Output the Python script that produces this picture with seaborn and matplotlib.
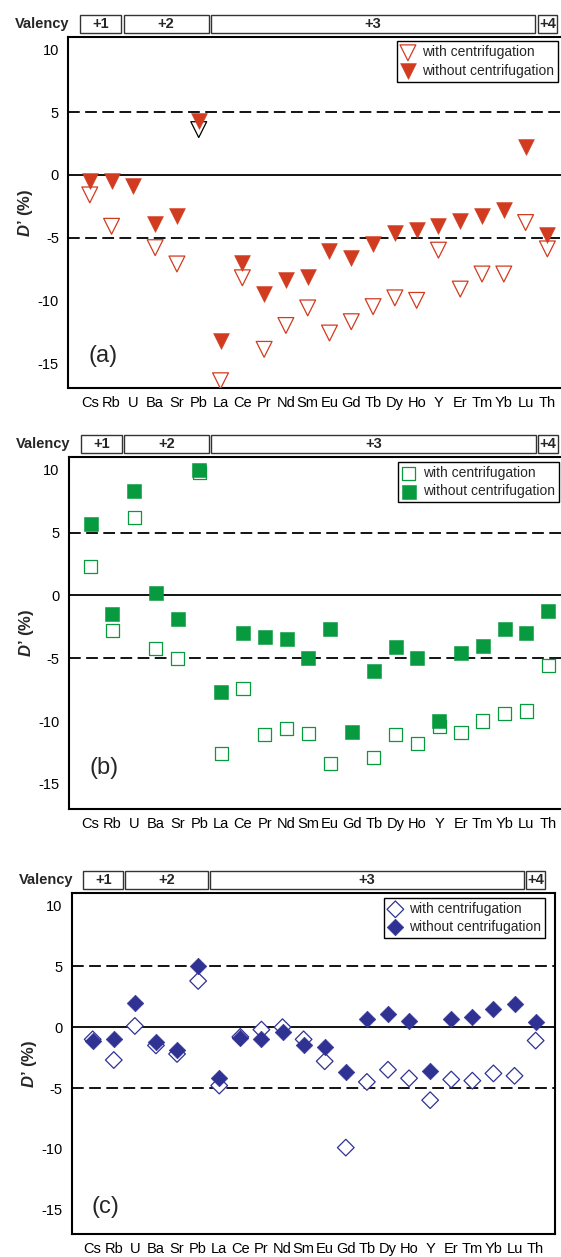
import numpy as np
import pandas as pd
import seaborn as sns
import matplotlib.pyplot as plt
from matplotlib.patches import Rectangle
from matplotlib.transforms import blended_transform_factory

nan = np.nan

elements = ['Cs', 'Rb', 'U', 'Ba', 'Sr', 'Pb', 'La', 'Ce', 'Pr', 'Nd', 'Sm',
            'Eu', 'Gd', 'Tb', 'Dy', 'Ho', 'Y', 'Er', 'Tm', 'Yb', 'Lu', 'Th']
valency_labels = ['+1', '+2', '+3', '+4']
valency_counts = [2, 4, 15, 1]
yticks = [-15, -10, -5, 0, 5, 10]

# D' (%) values
a_with = [-1.6, -4.1, nan, -5.8, -7.1, 3.6, -16.4, -8.2, -13.9, -12.0, -10.6,
          -12.6, -11.7, -10.5, -9.8, -10.0, -6.0, -9.1, -7.9, -7.9, -3.8, -5.9]
a_without = [-0.5, -0.5, -0.9, -3.9, -3.3, 4.3, -13.2, -7.0, -9.5, -8.4, -8.1,
             -6.1, -6.6, -5.5, -4.6, -4.4, -4.1, -3.7, -3.3, -2.8, 2.2, -4.8]
b_with = [2.3, -2.8, 6.2, -4.2, -5.0, 9.8, -12.6, -7.4, -11.1, -10.6, -11.0,
          -13.4, nan, -12.9, -11.1, -11.8, -10.4, -10.9, -10.0, -9.4, -9.2, -5.6]
b_without = [5.7, -1.5, 8.3, 0.2, -1.9, 10.0, -7.7, -3.0, -3.3, -3.5, -5.0,
             -2.7, -10.9, -6.0, -4.1, -5.0, -10.0, -4.6, -4.0, -2.7, -3.0, -1.2]
c_with = [-1.0, -2.7, 0.1, -1.5, -2.2, 3.8, -4.8, -0.8, -0.2, 0.0, -1.0,
          -2.8, -9.9, -4.5, -3.5, -4.2, -6.0, -4.3, -4.4, -3.8, -4.0, -1.1]
c_without = [-1.1, -1.0, 2.0, -1.2, -1.9, 5.0, -4.2, -0.9, -1.0, -0.4, -1.5,
             -1.6, -3.7, 0.7, 1.1, 0.5, -3.6, 0.7, 0.8, 1.5, 1.9, 0.4]

sns.set_theme(style='white')
plt.rcParams['font.family'] = ['Liberation Sans', 'DejaVu Sans']
plt.rcParams['axes.unicode_minus'] = False
plt.rcParams['mathtext.fontset'] = 'custom'
plt.rcParams['mathtext.it'] = 'Liberation Sans:italic:bold'
plt.rcParams['mathtext.rm'] = 'Liberation Sans:bold'

fig = plt.figure(figsize=(5.61, 12.57), dpi=100)

panels = [
    dict(rect=[0.1212, 0.6911, 0.8895, 0.2797], w=a_with, wo=a_without,
         marker='v', s=130, color='#d13b1f', tag='(a)', tag_y=-14.4,
         black_edge=['Pb']),
    dict(rect=[0.1225, 0.3564, 0.8895, 0.2798], w=b_with, wo=b_without,
         marker='s', s=90, color='#089a3e', tag='(b)', tag_y=-13.7,
         black_edge=[]),
    dict(rect=[0.1276, 0.0183, 0.8610, 0.2710], w=c_with, wo=c_without,
         marker='D', s=72, color='#2f3292', tag='(c)', tag_y=-14.8,
         black_edge=[]),
]

pos = np.arange(1, len(elements) + 1)

for p in panels:
    ax = fig.add_axes(p['rect'])
    df = pd.DataFrame({'element': elements, 'pos': pos,
                       'with': p['w'], 'without': p['wo']})

    ax.axhline(0, color='black', lw=1.3, zorder=1)
    for yv in (-5, 5):
        ax.axhline(yv, color='black', lw=1.3, dashes=(6.5, 3), zorder=1)

    dw = df.dropna(subset=['with'])
    edges = ['black' if e in p['black_edge'] else p['color'] for e in dw['element']]
    sns.scatterplot(x=dw['pos'], y=dw['with'], marker=p['marker'], s=p['s'],
                    color='white', edgecolor=edges, linewidth=0.9,
                    label='with centrifugation', ax=ax, zorder=3)
    dwo = df.dropna(subset=['without'])
    sns.scatterplot(x=dwo['pos'], y=dwo['without'], marker=p['marker'], s=p['s'],
                    color=p['color'], edgecolor=p['color'], linewidth=0.4,
                    label='without centrifugation', ax=ax, zorder=4)

    ax.set_xlim(0, 22.9)
    ax.set_ylim(-17, 11)
    ax.set_xticks(pos)
    ax.set_xticklabels(elements)
    ax.set_yticks(yticks)
    ax.set_yticklabels([str(t) for t in yticks])
    ax.set_xlabel('')
    ax.set_ylabel(r"$D$’ (%)", fontsize=12, fontweight='bold', labelpad=2)
    ax.tick_params(axis='both', direction='in', length=4.7, width=1,
                   labelsize=10.5, colors='black')
    ax.tick_params(axis='x', pad=5.5)
    ax.tick_params(axis='y', pad=6.5)
    for sp in ax.spines.values():
        sp.set_visible(True)
        sp.set_color('black')
        sp.set_linewidth(1.5)

    # legend
    axw = p['rect'][2] * 561
    leg = ax.legend(loc='upper right',
                    bbox_to_anchor=(1 - (axw - 490) / axw if axw > 490 else 0.981, 0.987),
                    borderaxespad=0, frameon=True, fancybox=False, framealpha=1,
                    edgecolor='black', fontsize=10, handlelength=1.0,
                    handletextpad=0.5, labelspacing=0.3, borderpad=0.3)
    leg.get_frame().set_linewidth(1.0)

    # valency strip above the axes
    h_px = p['rect'][3] * 1257
    y0 = 1 + 4 / h_px
    y1 = 1 + 22 / h_px
    trans = blended_transform_factory(ax.transData, ax.transAxes)
    start = 0.5
    for lab, n in zip(valency_labels, valency_counts):
        x0, x1 = start + 0.05, start + n - 0.05
        ax.add_patch(Rectangle((x0, y0), x1 - x0, y1 - y0, transform=trans,
                               facecolor='white', edgecolor='#333333', lw=1.0,
                               clip_on=False))
        ax.text((x0 + x1) / 2, (y0 + y1) / 2, lab, transform=trans, ha='center',
                va='center', fontsize=10.5, fontweight='bold')
        start += n
    ax.text(0.08, (y0 + y1) / 2, 'Valency', transform=trans, ha='right',
            va='center', fontsize=10.5, fontweight='bold')

    ax.text(0.95, p['tag_y'], p['tag'], ha='left', va='center', fontsize=17)

fig.savefig('out.png', dpi=100)
